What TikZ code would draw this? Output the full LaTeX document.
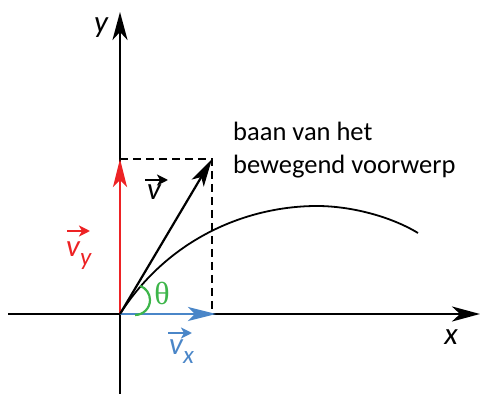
\documentclass[tikz,border=0pt]{standalone}
\usepackage{fontspec}
\setmainfont{Carlito}
\newfontfamily\greekfont{Liberation Serif}
\usetikzlibrary{arrows.meta}

\definecolor{vred}{RGB}{237,34,36}
\definecolor{vblue}{RGB}{74,134,200}
\definecolor{vgreen}{RGB}{61,181,74}

\begin{document}
\begin{tikzpicture}[x=1pt,y=1pt,
 axis/.style={line width=2.8pt,-{Stealth[length=28pt,width=15pt,inset=8pt]}},
 vect/.style={line width=2.8pt,-{Stealth[length=28pt,width=14pt,inset=7pt]}},
 help/.style={line width=1.8pt,dash pattern=on 8pt off 5pt},
 small/.style={line width=2pt,-{Stealth[length=11pt,width=11pt,inset=3pt]}},
 lbl/.style={inner sep=0pt,font=\fontsize{31}{33}\selectfont\itshape}]
 \useasboundingbox (0,0) rectangle (480,394);
 % axes
 \coordinate (O) at (120,80);
 \coordinate (xstart) at (8,80);
 \coordinate (xend) at (480,80);
 \coordinate (ystart) at (120,0);
 \coordinate (yend) at (120,382);
 \draw[axis] (xstart) -- (xend);
 \draw[axis] (ystart) -- (yend);
 \node[lbl] (xlab) at (451,57) {x};
 \node[lbl] (ylab) at (101,366) {y};
 % components
 \coordinate (P) at (212,235);
 \coordinate (Px) at (212,80);
 \coordinate (Py) at (120,235);
 \coordinate (top) at (317,188);
 \coordinate (cend) at (418,161);
 \draw[help] (Py) -- (P) -- (Px);
 \draw[line width=1.8pt] (O) .. controls (170,158) and (250,188) .. (top)
  .. controls (350,188) and (390,178) .. (cend);
 \draw[vect,vred] (O) -- (Py);
 \draw[vect,vblue] (O) -- (216,80);
 \draw[vect,line width=2.2pt] (O) -- (P);
 % labels of the vectors
 \node[lbl,anchor=base west] (vlab) at (147,194) {v};
 \draw[small] ([xshift=-2pt,yshift=20pt]vlab.base west) -- ++(23,0);
 \node[lbl,anchor=base west,vred] (vylab) at (66,137) {v\raisebox{-9pt}{\fontsize{25}{25}\selectfont y}};
 \draw[small,vred] ([xshift=1pt,yshift=26pt]vylab.base west) -- ++(23,0);
 \node[lbl,anchor=base west,vblue] (vxlab) at (169,39) {v\raisebox{-9pt}{\fontsize{25}{25}\selectfont x}};
 \draw[small,vblue] ([xshift=-1pt,yshift=22pt]vxlab.base west) -- ++(24,0);
 % angle
 \draw[vgreen,line width=2.2pt] (135,79) arc[start angle=-90,end angle=70,radius=15];
 \node[inner sep=0pt,vgreen,font=\fontsize{32}{34}\greekfont] (theta) at (162,101) {θ};
 \node[anchor=north west,inner sep=0pt,align=left,
  font=\fontsize{26.5}{33}\selectfont] (baan) at (233,272) {baan van het\\bewegend voorwerp};
\end{tikzpicture}
\end{document}
